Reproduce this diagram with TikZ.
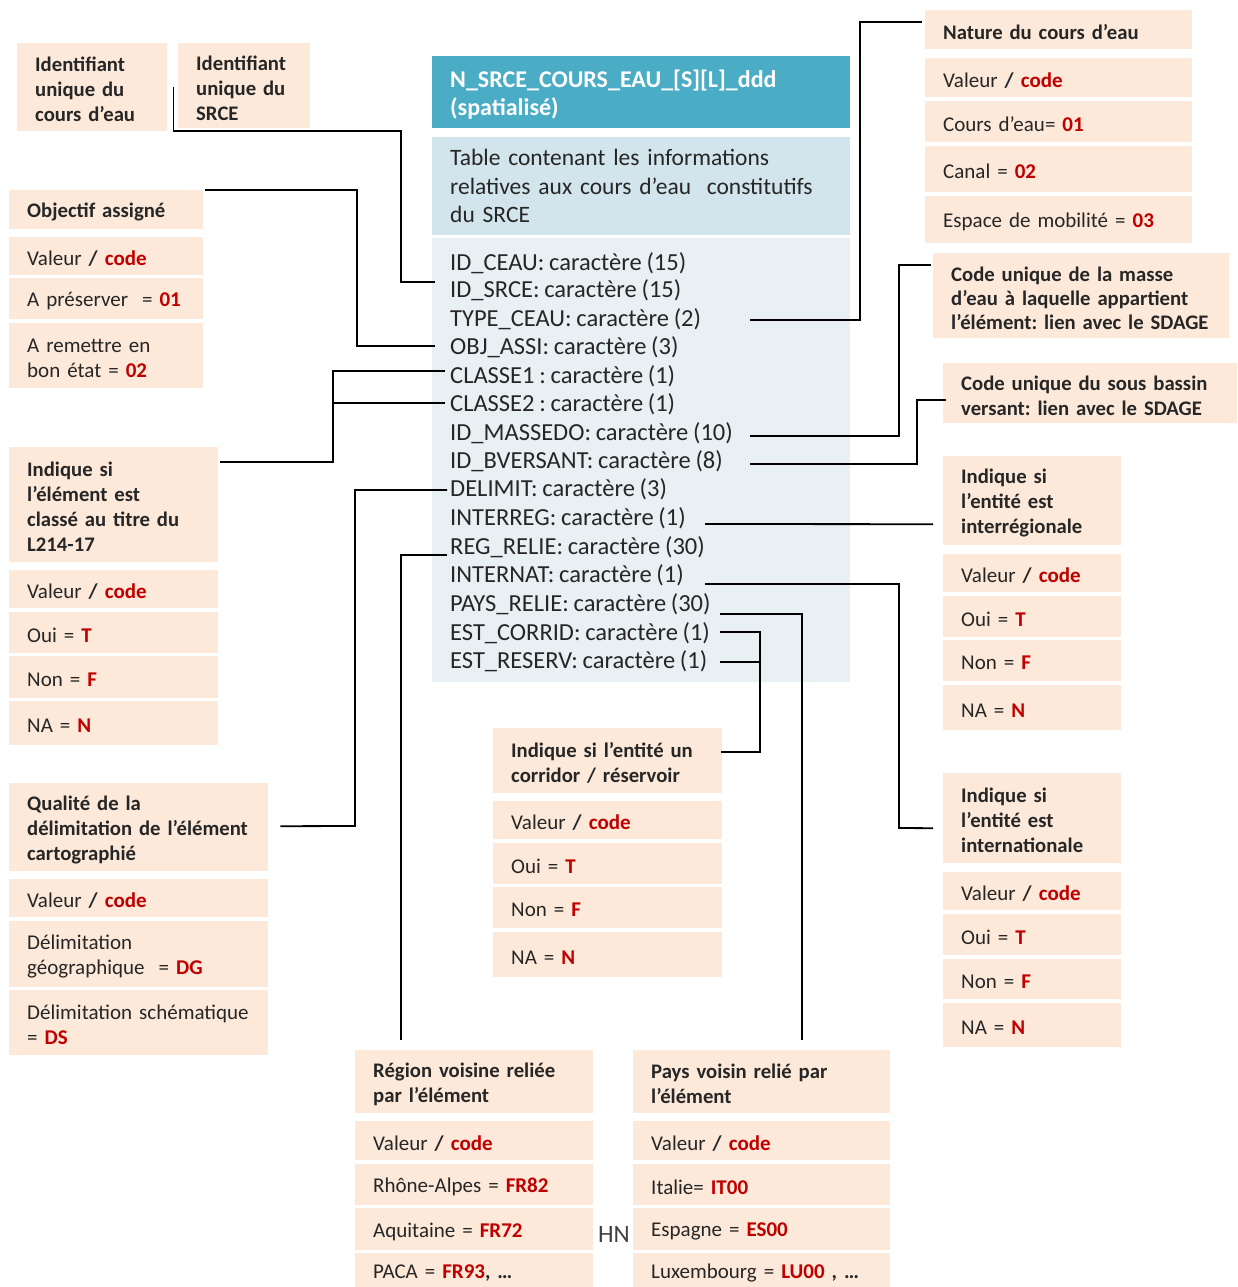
\documentclass[tikz,border=0pt]{standalone}
\usepackage{fontspec}
\setmainfont{Carlito}[WordSpace=0.85]
\frenchspacing
\usetikzlibrary{calc}
\definecolor{peach}{HTML}{FDE9D9}
\definecolor{tealbar}{HTML}{4BACC6}
\definecolor{descbg}{HTML}{D2E4EC}
\definecolor{fldbg}{HTML}{E8F0F4}
\definecolor{codered}{HTML}{C00000}
\definecolor{txt}{HTML}{262626}
\definecolor{hngray}{HTML}{404040}
\newcommand\cd[1]{\textcolor{codered}{\textbf{#1}}}
\newcommand\vc{Valeur \textbf{/} \cd{code}}
% \mybox[style]{name}{x1}{y1}{x2}{y2}{text}
\newcommand\mybox[7][cell]{%
  \pgfmathsetmacro\mbw{#5-#3}%
  \pgfmathsetmacro\mbh{#6-#4}%
  \pgfmathsetmacro\mbt{#5-#3-36}%
  \node[#1, minimum width=\mbw pt, minimum height=\mbh pt, anchor=north west] (#2) at (#3,#4) {};
  \node[#1, fill=none, text width=\mbt pt] (#2-t) at ($(#2.center)+(0,\mbdown)$) {#7};}
\newcommand\mbdown{2.5}
\tikzset{
  base/.style={inner xsep=18pt, inner ysep=0pt, align=left, fill=peach, text=txt},
  cell/.style={base, font=\fontsize{21}{25}\selectfont},
  hcell/.style={base, font=\fontsize{20.7}{25}\selectfont\bfseries},
  titlecell/.style={base, fill=tealbar, text=white, font=\fontsize{24}{28}\selectfont\bfseries},
  desccell/.style={base, fill=descbg, font=\fontsize{23.5}{28.3}\selectfont},
  fldcell/.style={base, fill=fldbg},
  row/.style={anchor=west, inner sep=0pt, text=txt, font=\fontsize{24.5}{28}\selectfont},
  conn/.style={draw=black, line width=1.8pt}
}
\begin{document}
\begin{tikzpicture}[x=1pt, y=-1pt]
\fill[white] (0,0) rectangle (1237,1287);
\useasboundingbox (0,0) rectangle (1237,1287);

% ---- main table
\mybox[titlecell]{title}{432}{56}{850}{128}{N\_SRCE\_COURS\_EAU\_[S][L]\_ddd\\(spatialisé)}
\renewcommand\mbdown{0}
\mybox[desccell]{desc}{432}{137}{850}{235}{Table contenant les informations\\relatives aux cours d’eau~ constitutifs\\du SRCE}
\mybox[fldcell]{fields}{432}{238}{850}{682}{}
\renewcommand\mbdown{2.5}
\node[row] (f1) at (450,263) {ID\_CEAU: caractère (15)};
\node[row] (f2) at (450,290) {ID\_SRCE: caractère (15)};
\node[row] (f3) at (450,319) {TYPE\_CEAU: caractère (2)};
\node[row] (f4) at (450,347) {OBJ\_ASSI: caractère (3)};
\node[row] (f5) at (450,376) {CLASSE1 : caractère (1)};
\node[row] (f6) at (450,404) {CLASSE2 : caractère (1)};
\node[row] (f7) at (450,433) {ID\_MASSEDO: caractère (10)};
\node[row] (f8) at (450,461) {ID\_BVERSANT: caractère (8)};
\node[row] (f9) at (450,489) {DELIMIT: caractère (3)};
\node[row] (f10) at (450,518) {INTERREG: caractère (1)};
\node[row] (f11) at (450,547) {REG\_RELIE: caractère (30)};
\node[row] (f12) at (450,575) {INTERNAT: caractère (1)};
\node[row] (f13) at (450,604) {PAYS\_RELIE: caractère (30)};
\node[row] (f14) at (450,633) {EST\_CORRID: caractère (1)};
\node[row] (f15) at (450,661) {EST\_RESERV: caractère (1)};

% ---- top left
\mybox[hcell]{id1}{17}{43}{167}{131}{Identifiant\\unique du\\cours d’eau}
\mybox[hcell]{id2}{178}{43}{310}{128}{Identifiant\\unique du\\SRCE}

% ---- objectif
\mybox[hcell]{objh}{9}{190}{203}{229}{Objectif assigné}
\mybox{obj1}{9}{237}{203}{275}{\vc}
\mybox{obj2}{9}{278}{203}{319}{A préserver~ = \cd{01}}
\mybox{obj3}{9}{323}{203}{388}{A remettre en\\bon état = \cd{02}}

% ---- classe
\mybox[hcell]{clh}{9}{447}{218}{562}{Indique si\\l’élément est\\classé au titre du\\L214-17}
\mybox{cl1}{9}{570}{218}{608}{\vc}
\mybox{cl2}{9}{612}{218}{653}{Oui = \cd{T}}
\mybox{cl3}{9}{656}{218}{698}{Non = \cd{F}}
\mybox{cl4}{9}{701}{218}{745}{NA = \cd{N}}

% ---- qualite
\mybox[hcell]{qh}{9}{783}{268}{871}{Qualité de la\\délimitation de l’élément\\cartographié}
\mybox{q1}{9}{879}{268}{917}{\vc}
\mybox{q2}{9}{921}{268}{987}{Délimitation\\géographique~ = \cd{DG}}
\mybox{q3}{9}{990}{268}{1055}{Délimitation schématique\\= \cd{DS}}

% ---- region
\mybox[hcell]{regh}{355}{1050}{593}{1113}{Région voisine reliée\\par l’élément}
\mybox{reg1}{355}{1121}{593}{1160}{\vc}
\mybox{reg2}{355}{1164}{593}{1205}{Rhône-Alpes = \cd{FR82}}
\mybox{reg3}{355}{1208}{593}{1250}{Aquitaine = \cd{FR72}}
\mybox{reg4}{355}{1253}{593}{1287}{PACA = \cd{FR93}\textbf{, …}}

% ---- pays
\mybox[hcell]{paysh}{633}{1050}{890}{1113}{Pays voisin relié par\\l’élément}
\mybox{p1}{633}{1121}{890}{1160}{\vc}
\mybox{p2}{633}{1164}{890}{1205}{Italie= \cd{IT00}}
\mybox{p3}{633}{1208}{890}{1250}{Espagne = \cd{ES00}}
\mybox{p4}{633}{1253}{890}{1287}{Luxembourg = \cd{LU00}\textbf{ , …}}
\node[inner sep=0pt, text=hngray, font=\fontsize{25}{28}\selectfont] (hn) at (614,1234) {HN};

% ---- corridor
\mybox[hcell]{corh}{493}{728}{722}{793}{Indique si l’entité un\\corridor / réservoir}
\mybox{cor1}{493}{801}{722}{839}{\vc}
\mybox{cor2}{493}{843}{722}{884}{Oui = \cd{T}}
\mybox{cor3}{493}{887}{722}{928}{Non = \cd{F}}
\mybox{cor4}{493}{932}{722}{977}{NA = \cd{N}}

% ---- nature
\mybox[hcell]{nath}{925}{10}{1192}{49}{Nature du cours d’eau}
\mybox{nat1}{925}{58}{1192}{97}{\vc}
\mybox{nat2}{925}{101}{1192}{142}{Cours d’eau= \cd{01}}
\mybox{nat3}{925}{146}{1192}{192}{Canal = \cd{02}}
\mybox{nat4}{925}{196}{1192}{243}{Espace de mobilité = \cd{03}}

% ---- masse / bassin
\mybox[hcell, font=\fontsize{20.7}{24.3}\selectfont\bfseries]{massh}{933}{253}{1229}{338}{Code unique de la masse\\d’eau à laquelle appartient\\l’élément: lien avec le SDAGE}
\mybox[hcell]{bvh}{943}{363}{1237}{423}{Code unique du sous bassin\\versant: lien avec le SDAGE}

% ---- interregional
\mybox[hcell]{irh}{943}{456}{1121}{545}{Indique si\\l’entité est\\interrégionale}
\mybox{ir1}{943}{554}{1121}{592}{\vc}
\mybox{ir2}{943}{596}{1121}{637}{Oui = \cd{T}}
\mybox{ir3}{943}{640}{1121}{681}{Non = \cd{F}}
\mybox{ir4}{943}{685}{1121}{730}{NA = \cd{N}}

% ---- international
\mybox[hcell]{inth}{943}{773}{1121}{863}{Indique si\\l’entité est\\internationale}
\mybox{int1}{943}{872}{1121}{910}{\vc}
\mybox{int2}{943}{914}{1121}{955}{Oui = \cd{T}}
\mybox{int3}{943}{959}{1121}{999}{Non = \cd{F}}
\mybox{int4}{943}{1003}{1121}{1047}{NA = \cd{N}}

% ---- connectors
\draw[conn] ($(id1.east)+(6,0)$) |- (401,131) |- ($(f2.west)+(-15,-8)$);
\draw[conn] ($(objh.north east)+(2,0)$) -| (357,346) -- ($(f4.west)+(-15,-1)$);
\draw[conn] ($(clh.east)+(2,-42.5)$) -| (333,371) -- ($(f5.west)+(-5,-5)$);
\draw[conn] (333,403) -- ($(f6.west)+(-5,-1)$);
\draw[conn] ($(f9.west)+(-3,1)$) -| (355,826) -- ($(qh.east)+(12,-1)$);
\draw[conn] ($(f11.west)+(-3,8)$) -| ($(regh.north west)+(46,-10)$);
\draw[conn] ($(f3.west)+(300,1)$) -| (860,22) -- ($(nath.north west)+(-3,12)$);
\draw[conn] ($(f7.west)+(300,3)$) -| (899,265) -- ($(massh.north west)+(-2,12)$);
\draw[conn] ($(f8.west)+(300,3)$) -| (917,400) -- ($(bvh.north west)+(3,37)$);
\draw[conn] ($(f10.west)+(255,6)$) -- ($(irh.west)+(-10,23.5)$);
\draw[conn] ($(f12.west)+(255,9)$) -| (899,828) -- ($(inth.west)+(-10,10)$);
\draw[conn] ($(f13.west)+(270,10)$) -| ($(paysh.north west)+(169,-10)$);
\draw[conn] ($(f14.west)+(270,-1)$) -| (760,752) -- ($(corh.north east)+(-1,24)$);
\draw[conn] ($(f15.west)+(270,1)$) -- (760,662);
\end{tikzpicture}
\end{document}
